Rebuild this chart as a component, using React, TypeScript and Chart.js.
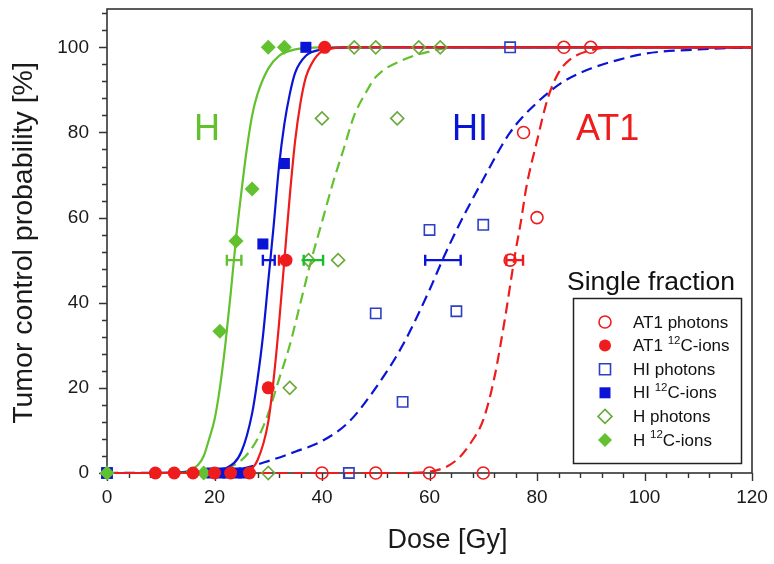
import React, { useEffect, useRef } from 'react';
import { Chart, registerables } from 'chart.js';

Chart.register(...registerables);

const FONT = '"Liberation Sans", Arial, Helvetica, sans-serif';

// ---- tick labels ----
const xMajorTicks = [0, 20, 40, 60, 80, 100, 120];
const yMajorTicks = [0, 20, 40, 60, 80, 100];
const xMinorTicks = [0, 4, 8, 12, 16, 20, 24, 28, 32, 36, 40, 44, 48, 52, 56, 60, 64, 68, 72, 76, 80, 84, 88, 92, 96, 100, 104, 108, 112, 116, 120];
const yMinorTicks = [0, 4, 8, 12, 16, 20, 24, 28, 32, 36, 40, 44, 48, 52, 56, 60, 64, 68, 72, 76, 80, 84, 88, 92, 96, 100, 104, 108];

// ---- measured points [dose Gy, TCP %] ----
const at1Photons = [[40, 0], [50, 0], [60, 0], [70, 0], [75, 50], [77.5, 80], [80, 60], [85, 100], [90, 100]];
const at1Ions = [[9, 0], [12.5, 0], [16, 0], [20, 0], [23, 0], [26.5, 0], [30, 20], [33.3, 50], [40.5, 100]];
const hiPhotons = [[0, 0], [45, 0], [50, 37.5], [55, 16.7], [60, 57.1], [65, 38], [70, 58.3], [75, 100]];
const hiIons = [[0, 0], [19.5, 0], [21, 0], [22.5, 0], [24, 0], [25.5, 0], [29, 53.8], [33, 72.7], [37, 100]];
const hPhotons = [[30, 0], [34, 20], [37.5, 50], [43, 50], [40, 83.3], [54, 83.3], [46, 100], [50, 100], [58, 100], [62, 100]];
const hIons = [[0, 0], [18, 0], [21, 33.3], [24, 54.5], [27, 66.7], [30, 100], [33, 100]];

// ---- fitted TCP curves [dose, TCP %] ----
const at1IonsCurve = [[0, 0], [20, 0], [26, 0.5], [28, 3], [30, 12], [31, 22], [32, 35], [33, 50], [34, 65], [35, 78], [36, 87], [37, 93], [38, 96], [40, 99], [45, 100], [120, 100]];
const hiIonsCurve = [[0, 0], [18, 0], [22, 1], [25, 5], [27, 14], [28, 22], [29, 32], [30, 45], [31, 58], [32, 72], [33, 82], [34, 89], [35, 94], [37, 98], [40, 99.5], [45, 100], [120, 100]];
const hIonsCurve = [[0, 0], [12, 0], [15, 0.5], [17, 2], [18, 4], [19, 8], [20, 12.5], [21, 20], [22, 30], [23, 42], [24, 55], [25, 66], [26, 76], [27, 84], [28, 89], [30, 95], [32, 98], [35, 99.5], [40, 100], [120, 100]];
const hPhotonsCurve = [[0, 0], [15, 0], [20, 0.5], [25, 3], [28, 8], [30, 14], [32, 22], [34, 30], [36, 40], [38, 50], [40, 59], [42, 68], [44, 76], [46, 84], [48, 89], [50, 93], [55, 97], [60, 99], [65, 100], [120, 100]];
const hiPhotonsCurve = [[0, 0], [20, 0.3], [25, 1], [30, 2.8], [35, 5], [40, 7.5], [45, 12], [50, 20], [55, 30], [60, 43], [62.4, 50], [65, 57], [70, 69], [75, 80], [80, 87], [85, 92], [90, 95], [95, 97], [100, 98.5], [110, 99.5], [120, 100]];
const at1PhotonsCurve = [[0, 0], [55, 0], [60, 0.3], [65, 3], [68, 7.7], [70, 12.5], [72, 22], [74, 36], [76, 52], [77, 59], [78, 67], [80, 78], [82, 88], [84, 94], [86, 97], [90, 99.3], [95, 100], [120, 100]];

// ---- TCD50 with error bars (at TCP = 50 %) ----
const errLabels = ['H 12C-ions', 'HI 12C-ions', 'AT1 12C-ions', 'H photons', 'HI photons', 'AT1 photons'];
const errCenter = [23.7, 30.1, 32.6, 38.4, 62.5, 75.8];
const errLow = [22.3, 29.0, 32.0, 36.6, 59.2, 74.3];
const errHigh = [25.0, 31.2, 33.2, 40.2, 65.8, 77.4];
const errLevel = 50;

const RED = '#ee1c1c';
const BLUE = '#0a14d6';
const BLUE_OPEN = '#2e3fc4';
const GREEN = '#62c12e';
const GREEN_OPEN = '#6aaa3a';
const GREEN_BAR = '#17c02a';
const errColors = [GREEN, BLUE, RED, GREEN_BAR, BLUE, RED];

const toXY = (arr: number[][]) => arr.map(([x, y]) => ({ x, y }));

function drawMarker(ctx: CanvasRenderingContext2D, kind: string, x: number, y: number, r: number, color: string, filled: boolean) {
  ctx.save();
  ctx.beginPath();
  if (kind === 'circle') ctx.arc(x, y, r, 0, Math.PI * 2);
  else if (kind === 'rect') ctx.rect(x - r, y - r, 2 * r, 2 * r);
  else {
    ctx.moveTo(x, y - r); ctx.lineTo(x + r, y); ctx.lineTo(x, y + r); ctx.lineTo(x - r, y); ctx.closePath();
  }
  if (filled) { ctx.fillStyle = color; ctx.fill(); }
  else { ctx.lineWidth = 1.6; ctx.strokeStyle = color; ctx.fillStyle = '#fff'; ctx.fill(); ctx.stroke(); }
  ctx.restore();
}

const legendItems = [
  { kind: 'circle', color: RED, filled: false, a: 'AT1 photons', sup: '', b: '' },
  { kind: 'circle', color: RED, filled: true, a: 'AT1 ', sup: '12', b: 'C-ions' },
  { kind: 'rect', color: BLUE_OPEN, filled: false, a: 'HI photons', sup: '', b: '' },
  { kind: 'rect', color: BLUE, filled: true, a: 'HI ', sup: '12', b: 'C-ions' },
  { kind: 'diamond', color: GREEN_OPEN, filled: false, a: 'H photons', sup: '', b: '' },
  { kind: 'diamond', color: GREEN, filled: true, a: 'H ', sup: '12', b: 'C-ions' },
];

const overlay = {
  id: 'overlay',
  beforeDatasetsDraw(chart: any) {
    const { ctx, chartArea: a, scales } = chart;
    const xs = scales.x, ys = scales.y;
    ctx.save();
    ctx.strokeStyle = '#333';
    ctx.lineWidth = 1.6;
    ctx.strokeRect(a.left, a.top, a.right - a.left, a.bottom - a.top);
    ctx.lineWidth = 1.4;
    ctx.beginPath();
    xMinorTicks.forEach((v) => {
      const px = Math.round(xs.getPixelForValue(v)) + 0.5;
      const len = xMajorTicks.includes(v) ? 8 : 5;
      ctx.moveTo(px, a.bottom); ctx.lineTo(px, a.bottom + len);
    });
    yMinorTicks.forEach((v) => {
      const py = Math.round(ys.getPixelForValue(v)) + 0.5;
      const len = yMajorTicks.includes(v) ? 8 : 5;
      ctx.moveTo(a.left, py); ctx.lineTo(a.left - len, py);
    });
    ctx.stroke();
    ctx.restore();
  },
  afterDatasetsDraw(chart: any) {
    const { ctx, scales } = chart;
    const xs = scales.x, ys = scales.y;
    ctx.save();
    ctx.lineWidth = 2.4;
    errCenter.forEach((c, i) => {
      const y = ys.getPixelForValue(errLevel);
      const x1 = xs.getPixelForValue(errLow[i]);
      const x2 = xs.getPixelForValue(errHigh[i]);
      ctx.strokeStyle = errColors[i];
      ctx.beginPath();
      ctx.moveTo(x1, y); ctx.lineTo(x2, y);
      ctx.moveTo(x1, y - 5.5); ctx.lineTo(x1, y + 5.5);
      ctx.moveTo(x2, y - 5.5); ctx.lineTo(x2, y + 5.5);
      ctx.stroke();
    });
    ctx.restore();
  },
  afterDraw(chart: any) {
    const { ctx, chartArea: a } = chart;
    ctx.save();
    // axis titles
    ctx.fillStyle = '#1a1a1a';
    ctx.font = `27px ${FONT}`;
    ctx.textAlign = 'center';
    ctx.textBaseline = 'middle';
    ctx.fillText('Dose [Gy]', (a.left + a.right) / 2 + 18, 541);
    ctx.save();
    ctx.font = `28.5px ${FONT}`;
    ctx.translate(24, (a.top + a.bottom) / 2 + 2);
    ctx.rotate(-Math.PI / 2);
    ctx.fillText('Tumor control probability [%]', 0, 0);
    ctx.restore();

    // group labels
    ctx.textAlign = 'left';
    ctx.textBaseline = 'alphabetic';
    ctx.font = `36px ${FONT}`;
    ctx.fillStyle = GREEN;
    ctx.fillText('H', 194, 140);
    ctx.fillStyle = BLUE;
    ctx.fillText('HI', 452, 140);
    ctx.fillStyle = RED;
    ctx.fillText('AT1', 576, 140);

    // legend
    ctx.fillStyle = '#111';
    ctx.font = `26.5px ${FONT}`;
    ctx.fillText('Single fraction', 567, 290);
    ctx.strokeStyle = '#222';
    ctx.lineWidth = 1.5;
    ctx.strokeRect(573.5, 298.5, 168, 165);
    legendItems.forEach((it, i) => {
      const y = 322 + i * 23.6;
      const r = it.kind === 'circle' ? 6 : it.kind === 'rect' ? 5.5 : 7;
      drawMarker(ctx, it.kind, 605, y, r, it.color, it.filled);
      ctx.fillStyle = '#111';
      ctx.textBaseline = 'middle';
      ctx.font = `17px ${FONT}`;
      ctx.fillText(it.a, 633, y + 1);
      if (it.sup) {
        let w = ctx.measureText(it.a).width;
        ctx.font = `11.5px ${FONT}`;
        ctx.fillText(it.sup, 633 + w, y - 5);
        w += ctx.measureText(it.sup).width;
        ctx.font = `17px ${FONT}`;
        ctx.fillText(it.b, 633 + w, y + 1);
      }
    });
    ctx.restore();
  },
};

export default function App() {
  const ref = useRef<HTMLCanvasElement | null>(null);
  useEffect(() => {
    if (!ref.current) return;
    const curve = (data: number[][], color: string, dashed: boolean, order: number) => ({
      data: toXY(data),
      showLine: true,
      borderColor: color,
      borderWidth: 2.2,
      borderDash: dashed ? [11, 6] : [],
      pointRadius: 0,
      cubicInterpolationMode: 'monotone' as const,
      order,
      clip: false as const,
    });
    const pts = (data: number[][], style: string, color: string, filled: boolean, radius: number) => ({
      data: toXY(data),
      showLine: false,
      pointStyle: style,
      pointRadius: radius,
      pointBorderWidth: filled ? 0 : 1.6,
      pointBorderColor: color,
      pointBackgroundColor: filled ? color : 'rgba(255,255,255,0)',
      order: 1,
      clip: false as const,
    });
    const chart = new Chart(ref.current, {
      type: 'scatter',
      data: {
        datasets: [
          pts(at1Ions, 'circle', RED, true, 6.5),
          pts(at1Photons, 'circle', RED, false, 6),
          pts(hIons, 'rectRot', GREEN, true, 7.5),
          pts(hPhotons, 'rectRot', GREEN_OPEN, false, 6.5),
          pts(hiIons, 'rect', BLUE, true, 7.8),
          pts(hiPhotons, 'rect', BLUE_OPEN, false, 7.3),
          curve(at1IonsCurve, RED, false, 2),
          curve(at1PhotonsCurve, RED, true, 2),
          curve(hiIonsCurve, BLUE, false, 2),
          curve(hiPhotonsCurve, BLUE, true, 2),
          curve(hIonsCurve, GREEN, false, 2),
          curve(hPhotonsCurve, GREEN, true, 2),
        ] as any,
      },
      options: {
        animation: false,
        responsive: false,
        maintainAspectRatio: false,
        layout: { padding: { left: 0, right: 22, top: 9, bottom: 0 } },
        plugins: { legend: { display: false }, tooltip: { enabled: false } },
        scales: {
          x: {
            type: 'linear',
            min: 0,
            max: 120,
            grid: { display: false, drawTicks: false },
            border: { display: false },
            ticks: {
              stepSize: 20,
              autoSkip: false,
              maxRotation: 0,
              padding: 13,
              color: '#1a1a1a',
              font: { size: 19, family: FONT },
              callback: (v: any) => (xMajorTicks.includes(Number(v)) ? String(v) : ''),
            },
            afterFit: (s: any) => { s.height = 91; s.paddingLeft = 0; s.paddingRight = 0; },
          },
          y: {
            type: 'linear',
            min: 0,
            max: 109,
            grid: { display: false, drawTicks: false },
            border: { display: false },
            ticks: {
              stepSize: 20,
              autoSkip: false,
              padding: 18,
              color: '#1a1a1a',
              font: { size: 19, family: FONT },
              callback: (v: any) => (yMajorTicks.includes(Number(v)) ? String(v) : ''),
            },
            afterFit: (s: any) => { s.width = 107; s.paddingTop = 0; s.paddingBottom = 0; },
          },
        },
      } as any,
      plugins: [overlay],
    });
    return () => chart.destroy();
  }, []);
  return (
    <div style={{ position: 'absolute', left: 0, top: 0, width: 774, height: 564, background: '#fff' }}>
      <canvas ref={ref} width={774} height={564} style={{ width: 774, height: 564, display: 'block' }} />
    </div>
  );
}
